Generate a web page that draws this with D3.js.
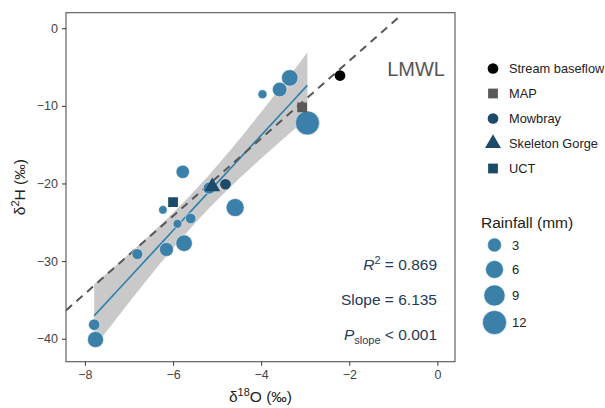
<!DOCTYPE html>
<html>
<head>
<meta charset="utf-8">
<script src="https://cdn.jsdelivr.net/npm/d3@7"></script>
<style>
  body { margin: 0; background: #fff; }
  svg { font-family: "Liberation Sans", Arial, sans-serif; }
</style>
</head>
<body>
<div id="chart"></div>
<script>
// rainfall samples: d18O, d2H, rainfall (mm)
const rainD18O = [-5.78, -3.35, -3.58, -3.97, -2.95, -5.18, -6.23, -5.90, -5.60, -4.59, -5.75, -6.15, -6.81, -7.79, -7.76];
const rainD2H  = [-18.5, -6.4, -7.9, -8.5, -12.2, -20.6, -23.4, -25.2, -24.5, -23.1, -27.7, -28.5, -29.1, -38.2, -40.1];
const rainMM   = [2.7, 4.9, 3.5, 0.4, 12, 1.9, 0.2, 0.4, 1.1, 6.1, 4.9, 3.1, 1.3, 1.5, 4.5];

// other sources
const siteNames = ["Stream baseflow", "MAP", "Mowbray", "Skeleton Gorge", "UCT"];
const siteD18O  = [-2.21, -3.07, -4.81, -5.11, -6.00];
const siteD2H   = [-6.1, -10.2, -20.1, -20.4, -22.4];
const siteShape = ["circle", "square", "circle", "triangle", "square"];
const siteColor = ["#000000", "#595959", "#1c4b69", "#1c4b69", "#1c4b69"];

const sizeBreaks = [3, 6, 9, 12];
const xTicks = [-8, -6, -4, -2, 0];
const yTicks = [0, -10, -20, -30, -40];

// fitted line (reported) and LMWL
const fitSlope = 6.135, fitIntercept = 10.75, fitR2 = 0.869;
const lmwlSlope = 5.0, lmwlIntercept = 5.8, lmwlEndX = -0.87;

const width = 605, height = 408;
const panel = { left: 66, right: 455, top: 12.7, bottom: 361.7 };

const svg = d3.select("#chart").append("svg")
  .attr("width", width)
  .attr("height", height);

const x = d3.scaleLinear().domain([-8.43, 0.40]).range([panel.left, panel.right]);
const y = d3.scaleLinear().domain([-42.96, 2.0]).range([panel.bottom, panel.top]);
const area = d3.scaleLinear().domain([0, 12]).range([16, 144]);
const radius = v => Math.sqrt(area(v));

const rain = rainD18O.map((d, i) => ({ x: d, y: rainD2H[i], mm: rainMM[i] }));
const sites = siteNames.map((n, i) => ({ name: n, x: siteD18O[i], y: siteD2H[i], shape: siteShape[i], color: siteColor[i] }));

// confidence band around the fit (95%, t with n-2 df)
const n = rain.length;
const xbar = d3.mean(rain, d => d.x);
const sxx = d3.sum(rain, d => (d.x - xbar) ** 2);
const sres = Math.sqrt(d3.sum(rain, d => (d.y - (fitSlope * d.x + fitIntercept)) ** 2) / (n - 2));
const tq = 2.16;
const [xmin, xmax] = d3.extent(rain, d => d.x);
const bandX = d3.range(0, 81).map(i => xmin + (xmax - xmin) * i / 80);
const band = bandX.map(v => {
  const fit = fitSlope * v + fitIntercept;
  const hw = tq * sres * Math.sqrt(1 / n + (v - xbar) ** 2 / sxx);
  return { x: v, lo: fit - hw, hi: fit + hw, fit: fit };
});

svg.append("clipPath").attr("id", "clip")
  .append("rect")
  .attr("x", panel.left).attr("y", panel.top)
  .attr("width", panel.right - panel.left).attr("height", panel.bottom - panel.top);

const plot = svg.append("g").attr("clip-path", "url(#clip)");

plot.append("path")
  .datum(band)
  .attr("d", d3.area().x(d => x(d.x)).y0(d => y(d.lo)).y1(d => y(d.hi)))
  .attr("fill", "#c9c9c9");

plot.append("path")
  .datum(band)
  .attr("d", d3.line().x(d => x(d.x)).y(d => y(d.fit)))
  .attr("fill", "none")
  .attr("stroke", "#2f7eab")
  .attr("stroke-width", 1.6);

plot.append("line")
  .attr("x1", x(-8.43)).attr("y1", y(lmwlSlope * -8.43 + lmwlIntercept))
  .attr("x2", x(lmwlEndX)).attr("y2", y(lmwlSlope * lmwlEndX + lmwlIntercept))
  .attr("stroke", "#575757")
  .attr("stroke-width", 2)
  .attr("stroke-dasharray", "8,6");

// rainfall points
plot.append("g")
  .selectAll("circle")
  .data(rain)
  .join("circle")
  .attr("cx", d => x(d.x))
  .attr("cy", d => y(d.y))
  .attr("r", d => radius(d.mm))
  .attr("fill", "#3b80a8")
  .attr("stroke", "#ffffff")
  .attr("stroke-width", 0.5);

const symbolPath = (shape) => {
  if (shape === "square") return d3.symbol(d3.symbolSquare, 96)();
  if (shape === "triangle") return d3.symbol(d3.symbolTriangle, 110)();
  return d3.symbol(d3.symbolCircle, 90)();
};

plot.append("g")
  .selectAll("path")
  .data(sites)
  .join("path")
  .attr("transform", d => `translate(${x(d.x)}, ${y(d.y)})`)
  .attr("d", d => symbolPath(d.shape))
  .attr("fill", d => d.color);

// panel border
svg.append("rect")
  .attr("x", panel.left).attr("y", panel.top)
  .attr("width", panel.right - panel.left).attr("height", panel.bottom - panel.top)
  .attr("fill", "none")
  .attr("stroke", "#555")
  .attr("stroke-width", 1.1);

// axes
const xAxis = svg.append("g")
  .attr("transform", `translate(0, ${panel.bottom})`)
  .call(d3.axisBottom(x).tickValues(xTicks).tickSize(4).tickPadding(4).tickFormat(d3.format("d")))
  .call(g => g.select(".domain").remove());
xAxis.selectAll("line").attr("stroke", "#333");
xAxis.selectAll("text").attr("fill", "#444").style("font-size", "12.5px")
  .style("font-family", "Liberation Sans, Arial, sans-serif");

const yAxis = svg.append("g")
  .attr("transform", `translate(${panel.left}, 0)`)
  .call(d3.axisLeft(y).tickValues(yTicks).tickSize(4).tickPadding(4).tickFormat(d3.format("d")))
  .call(g => g.select(".domain").remove());
yAxis.selectAll("line").attr("stroke", "#333");
yAxis.selectAll("text").attr("fill", "#444").style("font-size", "12.5px")
  .style("font-family", "Liberation Sans, Arial, sans-serif");

// axis titles
const xt = svg.append("text")
  .attr("x", (panel.left + panel.right) / 2)
  .attr("y", 402)
  .attr("text-anchor", "middle")
  .attr("font-size", 15.5)
  .attr("fill", "#222");
xt.append("tspan").text("δ");
xt.append("tspan").attr("dy", -6).attr("font-size", 11).text("18");
xt.append("tspan").attr("dy", 6).text("O (‰)");

const yt = svg.append("text")
  .attr("transform", `translate(25, ${(panel.top + panel.bottom) / 2}) rotate(-90)`)
  .attr("text-anchor", "middle")
  .attr("font-size", 15.5)
  .attr("fill", "#222");
yt.append("tspan").text("δ");
yt.append("tspan").attr("dy", -6).attr("font-size", 11).text("2");
yt.append("tspan").attr("dy", 6).text("H (‰)");

// annotations
svg.append("text")
  .attr("x", 445).attr("y", 76)
  .attr("text-anchor", "end")
  .attr("font-size", 20)
  .attr("fill", "#555")
  .text("LMWL");

const noteColor = "#1f3a5a";
const r2 = svg.append("text")
  .attr("x", 437).attr("y", 270)
  .attr("text-anchor", "end").attr("font-size", 15.5).attr("fill", noteColor);
r2.append("tspan").attr("font-style", "italic").text("R");
r2.append("tspan").attr("dy", -6).attr("font-size", 11).text("2");
r2.append("tspan").attr("dy", 6).text(" = " + d3.format(".3f")(fitR2));

svg.append("text")
  .attr("x", 437).attr("y", 305)
  .attr("text-anchor", "end").attr("font-size", 15.5).attr("fill", noteColor)
  .text("Slope = " + d3.format(".3f")(fitSlope));

const pt = svg.append("text")
  .attr("x", 437).attr("y", 340)
  .attr("text-anchor", "end").attr("font-size", 15.5).attr("fill", noteColor);
pt.append("tspan").attr("font-style", "italic").text("P");
pt.append("tspan").attr("dy", 4).attr("font-size", 11).text("slope");
pt.append("tspan").attr("dy", -4).text(" < 0.001");

// legend: sources
const leg = svg.append("g");
sites.forEach((d, i) => {
  const ly = 68.5 + i * 25;
  leg.append("path")
    .attr("transform", `translate(493, ${ly})`)
    .attr("d", symbolPath(d.shape))
    .attr("fill", d.color);
  leg.append("text")
    .attr("x", 509).attr("y", ly + 4.5)
    .attr("font-size", 12.8)
    .attr("fill", "#222")
    .text(d.name);
});

// legend: rainfall size
svg.append("text")
  .attr("x", 481).attr("y", 228)
  .attr("font-size", 15.5)
  .attr("fill", "#222")
  .text("Rainfall (mm)");

const sizeY = [245, 269.5, 295.5, 322.5];
sizeBreaks.forEach((v, i) => {
  svg.append("circle")
    .attr("cx", 494.5).attr("cy", sizeY[i])
    .attr("r", radius(v))
    .attr("fill", "#3b80a8")
    .attr("stroke", "#ffffff")
    .attr("stroke-width", 0.5);
  svg.append("text")
    .attr("x", 512).attr("y", sizeY[i] + 4.5)
    .attr("font-size", 13)
    .attr("fill", "#222")
    .text(v);
});
</script>
</body>
</html>
